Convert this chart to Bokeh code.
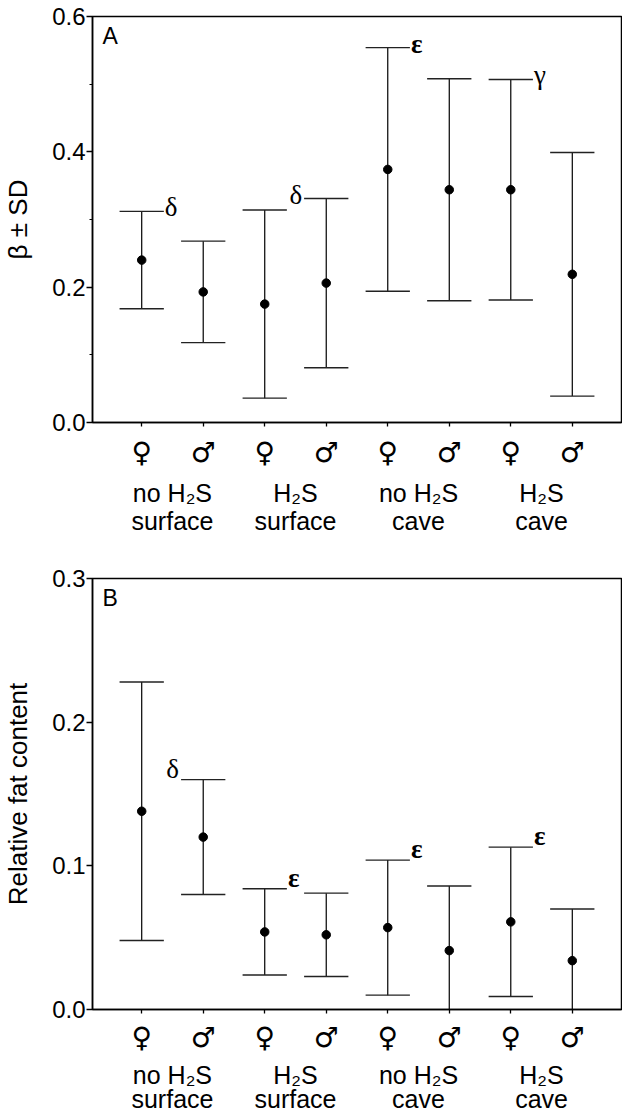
from bokeh.plotting import figure
from bokeh.models import Range1d, LinearAxis, FixedTicker, PrintfTickFormatter, ColumnDataSource
from bokeh.layouts import column
from bokeh.embed import file_html
from bokeh.resources import INLINE
from bokeh.core.properties import value

# ---------------- data ----------------
positions = [1, 2, 3, 4, 5, 6, 7, 8]
sex_labels = ["♀", "♂", "♀", "♂", "♀", "♂", "♀", "♂"]
group_pos = [1.5, 3.5, 5.5, 7.5]
group_line1 = ["no H₂S", "H₂S", "no H₂S", "H₂S"]
group_line2 = ["surface", "surface", "cave", "cave"]

beta_mean = [0.240, 0.193, 0.175, 0.206, 0.374, 0.344, 0.344, 0.219]
beta_sd = [0.072, 0.075, 0.139, 0.125, 0.180, 0.164, 0.163, 0.180]
beta_ticks = [0.0, 0.2, 0.4, 0.6]
beta_minor = [0.1, 0.3, 0.5]

fat_mean = [0.138, 0.120, 0.054, 0.052, 0.057, 0.041, 0.061, 0.034]
fat_sd = [0.090, 0.040, 0.030, 0.029, 0.047, 0.045, 0.052, 0.036]
fat_ticks = [0.0, 0.1, 0.2, 0.3]
fat_minor = []

panel_letters = ["A", "B"]
y_labels = ["β ± SD", "Relative fat content"]

annot_a_idx = [0, 3, 4, 6]
annot_a_sym = ["δ", "δ", "ε", "γ"]
annot_a_side = ["right", "left", "right", "right"]

annot_b_idx = [1, 2, 4, 6]
annot_b_sym = ["δ", "ε", "ε", "ε"]
annot_b_side = ["left", "right", "right", "right"]

SANS = "Liberation Sans"
CAP = 0.36


def make_panel(mean, sd, yticks, yminor, ymax, ylabel, letter, a_idx, a_sym, a_side,
               height, btop, bbottom, lift, st1, st2, st3):
    p = figure(width=622, height=height,
               x_range=Range1d(0.2, 8.8), y_range=Range1d(0, ymax),
               output_backend="svg", toolbar_location=None,
               min_border_left=92, min_border_right=1,
               min_border_top=btop, min_border_bottom=bbottom)
    p.xgrid.visible = False
    p.ygrid.visible = False
    p.outline_line_color = "black"
    p.outline_line_width = 1.5
    p.outline_line_alpha = 1.0
    p.background_fill_color = "white"
    p.border_fill_color = "white"

    lo = [m - s for m, s in zip(mean, sd)]
    hi = [m + s for m, s in zip(mean, sd)]
    src = ColumnDataSource(dict(
        x=positions, m=mean, lo=lo, hi=hi,
        xl=[x - CAP for x in positions], xr=[x + CAP for x in positions]))
    p.segment(x0="x", y0="lo", x1="x", y1="hi", source=src, line_color="black", line_width=1.2)
    p.segment(x0="xl", y0="hi", x1="xr", y1="hi", source=src, line_color="#222222", line_width=1.4)
    p.segment(x0="xl", y0="lo", x1="xr", y1="lo", source=src, line_color="#222222", line_width=1.4)
    p.scatter(x="x", y="m", source=src, size=8.5, color="black")

    # significance symbols
    for i, s, side in zip(a_idx, a_sym, a_side):
        style = "bold" if s == "ε" else "normal"
        if side == "right":
            p.text(x=[positions[i] + CAP], y=[hi[i]], text=[s], x_offset=1, y_offset=-lift,
                   text_align="left", text_baseline="alphabetic", text_font_style=style,
                   text_font=value("Liberation Serif"), text_font_size="27px", text_color="black")
        else:
            p.text(x=[positions[i] - CAP], y=[hi[i]], text=[s], x_offset=-2, y_offset=-lift,
                   text_align="right", text_baseline="alphabetic", text_font_style=style,
                   text_font=value("Liberation Serif"), text_font_size="27px", text_color="black")

    # panel letter
    p.text(x=[0.2], y=[ymax], text=[letter], x_offset=10, y_offset=6,
           text_align="left", text_baseline="top",
           text_font=value(SANS), text_font_size="23px", text_color="black")

    # y axis
    ya = p.yaxis[0]
    ya.ticker = FixedTicker(ticks=yticks, minor_ticks=yminor)
    ya.formatter = PrintfTickFormatter(format="%.1f")
    ya.major_label_text_font = SANS
    ya.major_label_text_font_size = "24px"
    ya.major_label_text_color = "black"
    ya.major_tick_out = 6
    ya.major_tick_in = 0
    ya.minor_tick_out = 3
    ya.minor_tick_in = 0
    ya.major_label_standoff = 1
    ya.axis_line_width = 1.5
    ya.major_tick_line_width = 1.3
    ya.axis_label = ylabel
    ya.axis_label_text_font = SANS
    ya.axis_label_text_font_size = "26px"
    ya.axis_label_text_font_style = "normal"
    ya.axis_label_text_color = "black"
    ya.axis_label_standoff = 16

    # x axis: sex symbols
    xa = p.below[0]
    xa.ticker = FixedTicker(ticks=positions)
    xa.major_label_overrides = {x: s for x, s in zip(positions, sex_labels)}
    xa.major_label_text_font = "DejaVu Sans"
    xa.major_label_text_font_size = "28px"
    xa.major_label_text_color = "black"
    xa.major_tick_out = 4
    xa.major_tick_in = 0
    xa.major_label_standoff = st1
    xa.axis_line_width = 1.5
    xa.major_tick_line_width = 1.3

    for labels, st in ((group_line1, st2), (group_line2, st3)):
        ax = LinearAxis(ticker=FixedTicker(ticks=group_pos),
                        major_label_overrides={x: s for x, s in zip(group_pos, labels)},
                        axis_line_color=None, major_tick_line_color=None,
                        minor_tick_line_color=None, major_tick_out=0, major_tick_in=0,
                        major_label_standoff=st,
                        major_label_text_font=SANS, major_label_text_font_size="25px",
                        major_label_text_color="black")
        p.add_layout(ax, "below")
    return p


pa = make_panel(beta_mean, beta_sd, beta_ticks, beta_minor, 0.6, y_labels[0], panel_letters[0],
                annot_a_idx, annot_a_sym, annot_a_side,
                height=556, btop=16, bbottom=134, lift=4, st1=9, st2=7, st3=-3)
pb = make_panel(fat_mean, fat_sd, fat_ticks, fat_minor, 0.3, y_labels[1], panel_letters[1],
                annot_b_idx, annot_b_sym, annot_b_side,
                height=559, btop=22, bbottom=105, lift=11, st1=7, st2=4, st3=-7)

layout = column(pa, pb, spacing=0)
open("out.html", "w").write(file_html(layout, INLINE))
